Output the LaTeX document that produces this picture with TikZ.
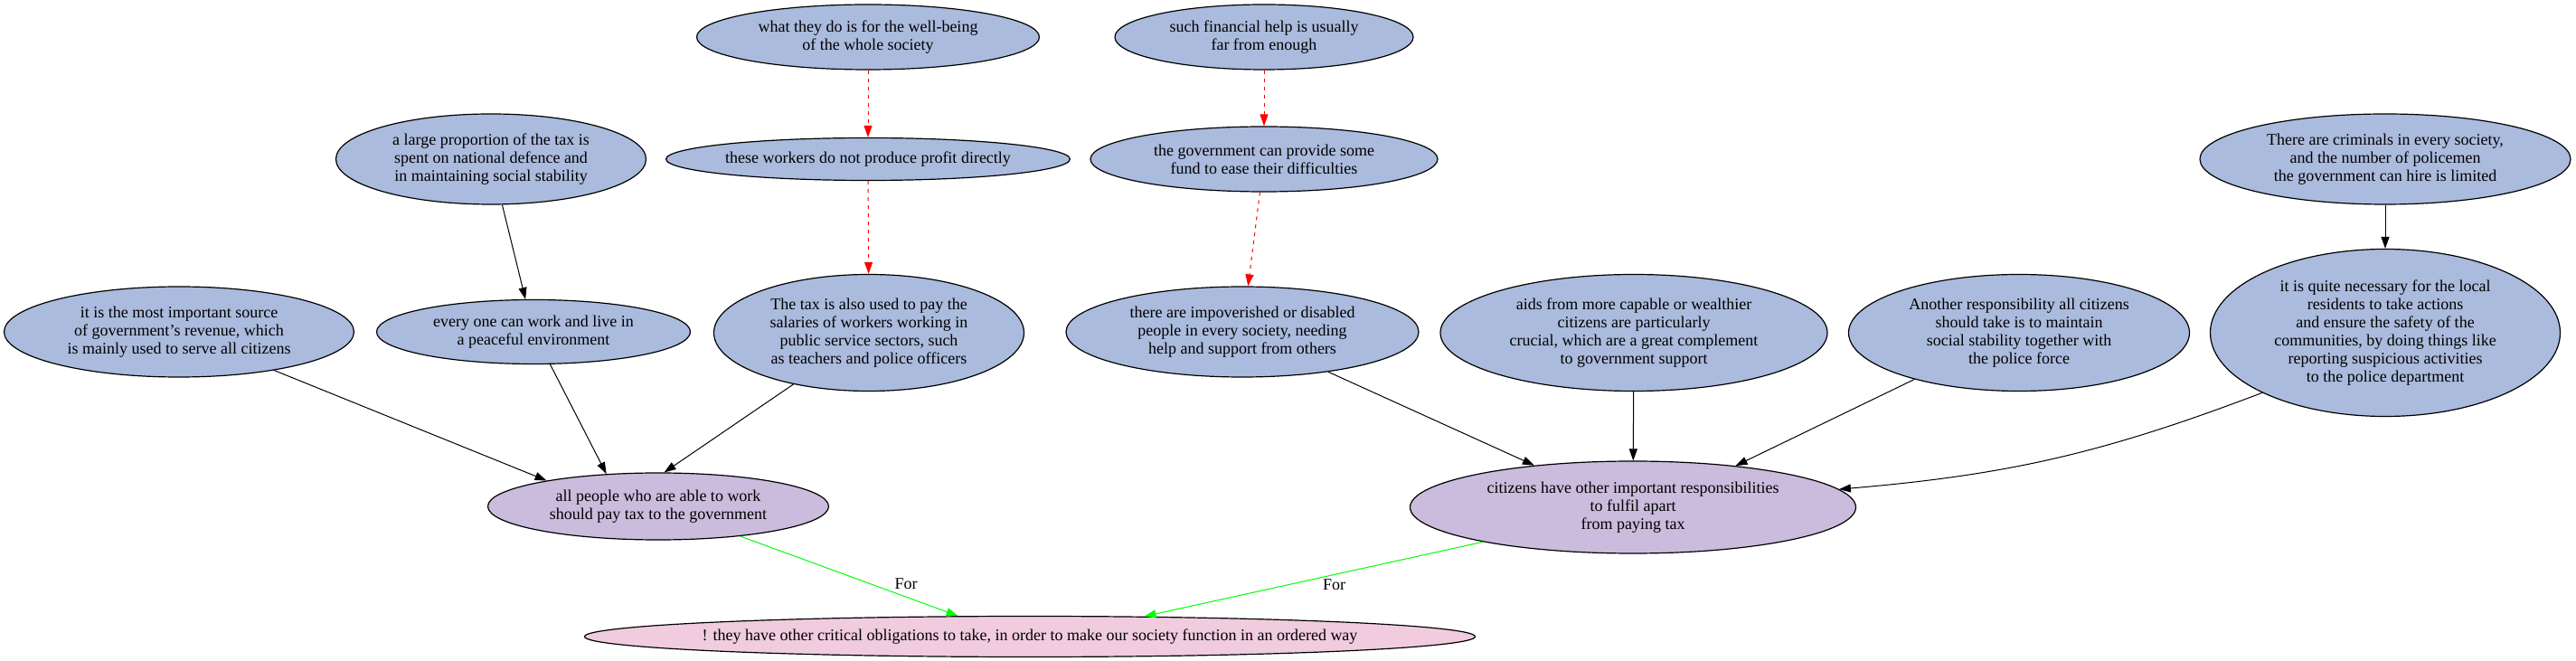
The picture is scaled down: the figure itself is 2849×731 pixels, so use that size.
\documentclass[tikz,border=0pt]{standalone}
\usepackage{fontspec}
\setmainfont{Liberation Serif}
\usetikzlibrary{shapes.geometric,arrows.meta}
\definecolor{argblue}{RGB}{170,187,221}
\definecolor{argpurple}{RGB}{203,187,221}
\definecolor{argpink}{RGB}{240,204,222}

\begin{document}
\begin{tikzpicture}[x=0.5pt,y=-0.5pt,
		claim/.style={draw, ellipse, line width=0.6pt, inner sep=0pt, align=center, font=\fontsize{9}{10}\selectfont},
		premise/.style={claim, fill=argblue},
		thesis/.style={claim, fill=argpurple},
		goal/.style={claim, fill=argpink},
		support/.style={-{Triangle[length=6.5pt,width=4.5pt]}, line width=0.5pt},
		detail/.style={support, red, dash pattern=on 2pt off 2.5pt},
		pro/.style={support, green},
		forlabel/.style={text=black, font=\fontsize{9}{10}\selectfont, inner sep=0pt}]
				\useasboundingbox (0,0) rectangle (2849,731);
				
				\node[premise, minimum width=189.5pt, minimum height=36pt] (wellbeing) at (960,41) {what they do is for the well-being\\of the whole society};
				\node[premise, minimum width=221.5pt, minimum height=23.5pt] (noprofit) at (960,176) {these workers do not produce profit directly};
				\node[premise, minimum width=171.5pt, minimum height=50pt] (defence) at (543,176) {a large proportion of the tax is\\spent on national defence and\\in maintaining social stability};
				\node[premise, minimum width=193.5pt, minimum height=50pt] (revenue) at (198,367) {it is the most important source\\of government's revenue, which\\is mainly used to serve all citizens};
				\node[premise, minimum width=173.5pt, minimum height=35.5pt] (peaceful) at (590,367) {every one can work and live in\\a peaceful environment};
				\node[premise, minimum width=171.5pt, minimum height=64.5pt] (salaries) at (961,368) {The tax is also used to pay the\\salaries of workers working in\\public service sectors, such\\as teachers and police officers};
				
				\node[premise, minimum width=165pt, minimum height=36pt] (notenough) at (1398,41) {such financial help is usually\\far from enough};
				\node[premise, minimum width=192pt, minimum height=36pt] (fund) at (1398,176) {the government can provide some\\fund to ease their difficulties};
				\node[premise, minimum width=195pt, minimum height=50pt] (needy) at (1374,367) {there are impoverished or disabled\\people in every society, needing\\help and support from others};
				\node[premise, minimum width=214pt, minimum height=64.5pt] (aids) at (1807,368) {aids from more capable or wealthier\\citizens are particularly\\crucial, which are a great complement\\to government support};
				\node[premise, minimum width=188.5pt, minimum height=64.5pt] (stability) at (2233,368) {Another responsibility all citizens\\should take is to maintain\\social stability together with\\the police force};
				\node[premise, minimum width=205pt, minimum height=50pt] (criminals) at (2638,176) {There are criminals in every society,\\and the number of policemen\\the government can hire is limited};
				\node[premise, minimum width=193.5pt, minimum height=92.5pt] (residents) at (2638,368) {it is quite necessary for the local\\residents to take actions\\and ensure the safety of the\\communities, by doing things like\\reporting suspicious activities\\to the police department};
				
				\node[thesis, minimum width=188.5pt, minimum height=37pt] (paytax) at (728,560) {all people who are able to work\\should pay tax to the government};
				\node[thesis, minimum width=246.5pt, minimum height=51pt] (duties) at (1806,561) {citizens have other important responsibilities\\to fulfil apart\\from paying tax};
				\node[goal, inner xsep=-10pt, minimum width=492.5pt, minimum height=22.5pt] (obligations) at (1139,704) {! they have other critical obligations to take, in order to make our society function in an ordered way};
				
				\draw[detail] (wellbeing) -- (noprofit);
				\draw[detail] (noprofit) -- (salaries);
				\draw[detail] (notenough) -- (fund);
				\draw[detail] (fund) -- (needy);
				
				\draw[support] (defence) -- (peaceful);
				\draw[support] (criminals) -- (residents);
				\draw[support] (revenue) -- (paytax.167);
				\draw[support] (peaceful) -- (paytax.148);
				\draw[support] (salaries) -- (paytax.80);
				\draw[support] (needy.-25) -- (duties.157);
				\draw[support] (aids) -- (duties);
				\draw[support] (stability.-156) -- (duties.22);
				\draw[support] (residents.-154) to[bend left=8] (duties.5);
				
				\draw[pro] (paytax.-20) -- node[forlabel, pos=0.6, right=13pt] (forleft) {For} (obligations.164);
				\draw[pro] (duties.-167) -- node[forlabel, pos=0.57, right=18pt] (forright) {For} (obligations.10);
			\end{tikzpicture}
\end{document}
